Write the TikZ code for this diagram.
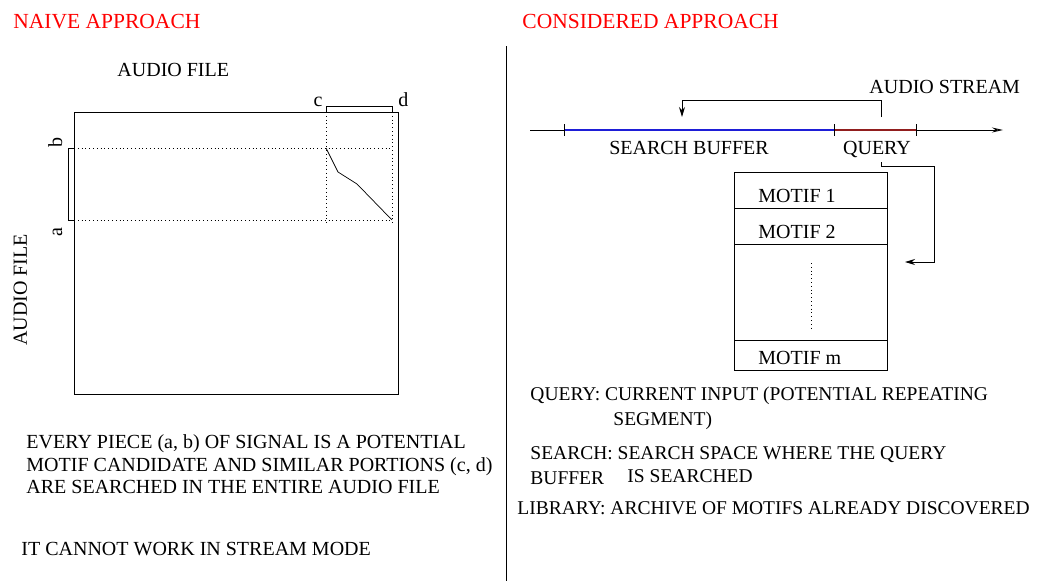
\documentclass[tikz,border=0pt]{standalone}
\usepackage{fontspec}
\setmainfont{Liberation Serif}
\usepackage{tikz}
\usetikzlibrary{arrows.meta}
\definecolor{bufblue}{RGB}{30,30,215}
\definecolor{qryred}{RGB}{145,30,30}

\begin{document}
\begin{tikzpicture}[x=1pt,y=-1pt,line width=0.9pt]
\tikzstyle{txt}=[inner sep=0,anchor=base west,font=\fontsize{20}{22}\selectfont];
\tikzstyle{key}=[txt,font=\fontsize{19.5}{22}\selectfont];
\tikzstyle{title}=[txt,text=red,font=\fontsize{21.5}{24}\selectfont];
\tikzstyle{side}=[txt,rotate=90,anchor=base];
\tikzstyle{row}=[draw,anchor=north west,minimum width=153,inner sep=0];
\tikzstyle{guide}=[line width=0.8pt,dash pattern=on 0.8pt off 3pt];
\tikzstyle{flow}=[-{Stealth[length=10pt,width=6pt]}];
\useasboundingbox (0,0) rectangle (1046,581);

\node [title] (naive) at (13,28) {NAIVE APPROACH};
\node [title] (considered) at (522,28) {CONSIDERED APPROACH};
\coordinate (sepTop) at (506,46);
\coordinate (sepBot) at (506,581);
\draw (sepTop) -- (sepBot);

\node [txt] (fileTop) at (117,76) {AUDIO FILE};
\node [side] (fileSide) at (27,290) {AUDIO FILE};
\node (file) [draw,anchor=north west,minimum width=324,minimum height=282,inner sep=0] at (74,112) {};
\coordinate (b) at (74,148);
\coordinate (a) at (74,220);
\coordinate (c) at (326,112);
\coordinate (d) at (392,112);
\draw (b) -- ++(-6,0) |- (a);
\draw (c) -- ++(0,-6) -| (d);
\node [side] (lb) at (62,142) {b};
\node [side] (la) at (62,232) {a};
\node [txt,anchor=base east] (lc) at (323,106) {c};
\node [txt] (ld) at (398,106) {d};
\draw [guide] (b) -- (b -| d);
\draw [guide] (a) -- (a -| d);
\draw [guide] (c) -- ([yshift=-4pt]a -| c);
\draw [guide] (d) -- ([yshift=-4pt]a -| d);
\coordinate (m0) at (b -| c);
\coordinate (m1) at (338,172);
\coordinate (m2) at (357,184);
\coordinate (m3) at (a -| d);
\draw [line width=0.7pt] (m0) -- (m1) -- (m2) -- (m3);

\node [txt] (piece1) at (26,448) {EVERY PIECE (a, b) OF SIGNAL IS A POTENTIAL};
\node [txt] (piece2) at (26,471) {MOTIF CANDIDATE AND SIMILAR PORTIONS (c, d)};
\node [txt] (piece3) at (26,493) {ARE SEARCHED IN THE ENTIRE AUDIO FILE};
\node [txt] (stream) at (21,555) {IT CANNOT WORK IN STREAM MODE};

% audio stream
\coordinate (tail) at (530,130);
\coordinate (head) at (1003,130);
\coordinate (bufL) at (564,130);
\coordinate (bufR) at (834,130);
\coordinate (qryR) at (916,130);
\draw [-{Stealth[length=11pt,width=5pt,open]}] (tail) -- (head);
\draw [bufblue,line width=1.3pt] (bufL) -- (bufR);
\draw [qryred,line width=1.3pt] (bufR) -- (qryR);
\foreach \t in {bufL,bufR,qryR}
  \draw ([yshift=6pt]\t) -- ([yshift=-6pt]\t);
\node [txt,anchor=base] (buffer) at (689,154) {SEARCH BUFFER};
\node [txt,anchor=base] (query) at (877,154) {QUERY};
\node [txt] (audio) at (869,93) {AUDIO STREAM};

\node [row,minimum height=36] (motif1) at (734,172) {};
\node [row,minimum height=36] (motif2) at (734,208) {};
\node [row,minimum height=96] (motifs) at (734,244) {};
\node [row,minimum height=30] (motifm) at (734,340) {};
\node [txt] at (758,202) {MOTIF 1};
\node [txt] at (758,238) {MOTIF 2};
\node [txt] at (758,364) {MOTIF m};
\draw [guide] ([yshift=-19pt]motifs.north) -- ([yshift=13pt]motifs.south);

\coordinate (qUp) at (881,117);
\coordinate (bufIn) at (682,117);
\coordinate (qDown) at (881,162);
\coordinate (libIn) at (905,262);
\draw [flow] (qUp) -- ++(0,-17) -| (bufIn);
\draw [flow] (qDown) |- (934,166) |- (libIn);

\node [key] (key1) at (530,400) {QUERY: CURRENT INPUT (POTENTIAL REPEATING};
\node [key] (key1b) at (613,425) {SEGMENT)};
\node [key] (key2) at (530,459) {SEARCH: SEARCH SPACE WHERE THE QUERY};
\node [key] (key2b) at (530,484) {BUFFER};
\node [key] (key2c) at (627,482) {IS SEARCHED};
\node [key] (key3) at (517,514) {LIBRARY: ARCHIVE OF MOTIFS ALREADY DISCOVERED};
\end{tikzpicture}
\end{document}
